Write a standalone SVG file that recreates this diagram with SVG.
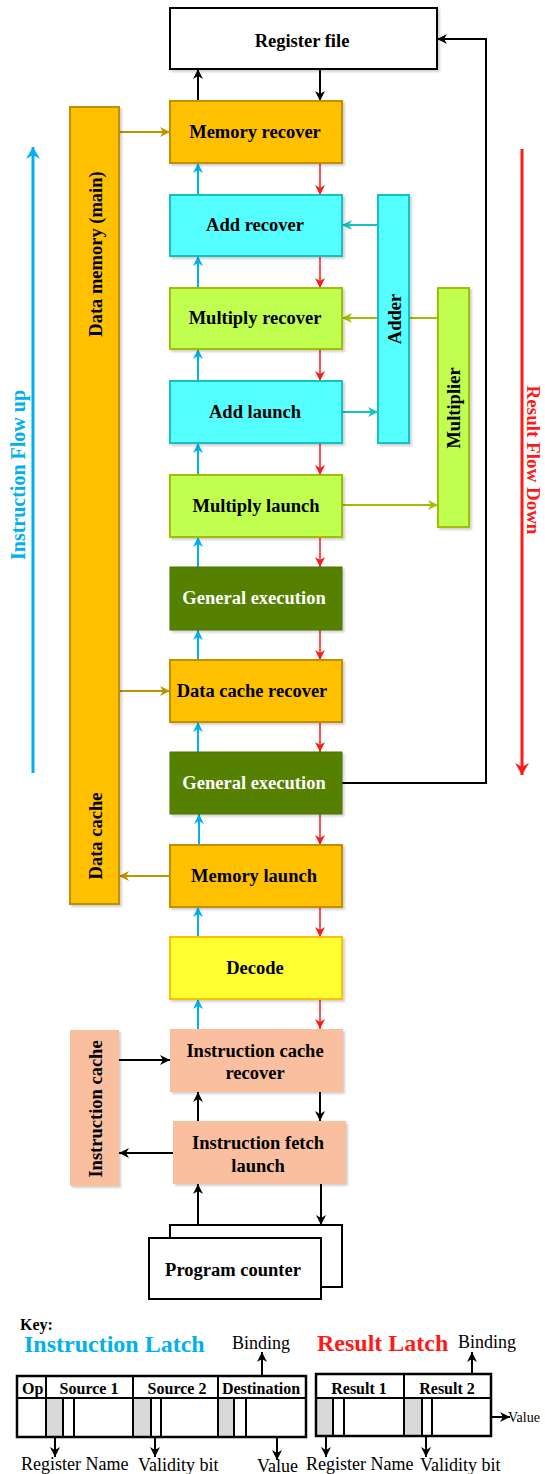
<svg xmlns="http://www.w3.org/2000/svg" width="545" height="1474" viewBox="0 0 545 1474">
<style>
.t{font-family:"Liberation Serif","Times New Roman",serif;font-weight:bold;font-size:18.5px;fill:#000;text-anchor:middle}
.w{fill:#fff}
.orange{fill:#FFC000;stroke:#BF9000;stroke-width:2}
.cyan{fill:#55FFFF;stroke:#17BFC0;stroke-width:2}
.lime{fill:#C0FF50;stroke:#9FBF00;stroke-width:2}
.dgreen{fill:#548000;stroke:#4A7200;stroke-width:1}
.yellow{fill:#FFFF33;stroke:#FFC000;stroke-width:2}
.peach{fill:#FABF9F}
.white{fill:#fff;stroke:#000;stroke-width:2}
.sh{filter:url(#shadow)}
.cb{stroke:#00B0F0;stroke-width:2;fill:none;marker-end:url(#mBlue)}
.cr{stroke:#FF1A1A;stroke-width:1.5;fill:none;marker-end:url(#mRed)}
.ck{stroke:#000;stroke-width:2;fill:none;marker-end:url(#mBlack)}
.cg{stroke:#BF9000;stroke-width:2;fill:none;marker-end:url(#mGold)}
.cc{stroke:#17BFC0;stroke-width:2;fill:none;marker-end:url(#mCyan)}
.cl{stroke:#9FBF00;stroke-width:2;fill:none;marker-end:url(#mLime)}
.kt{font-family:"Liberation Serif","Times New Roman",serif;font-size:18px;fill:#000}
.kb{font-family:"Liberation Serif","Times New Roman",serif;font-weight:bold;font-size:16px;fill:#000}
.ln{stroke:#000;stroke-width:2;fill:none}
.gr{fill:#D9D9D9}
</style>
<defs>
<filter id="shadow" x="-10%" y="-10%" width="130%" height="130%">
<feDropShadow dx="2" dy="2" stdDeviation="1" flood-color="#000" flood-opacity="0.18"/>
</filter>
<marker id="mBlue" markerUnits="userSpaceOnUse" markerWidth="10" markerHeight="10" refX="10" refY="5" orient="auto"><path d="M0,0 L10,5 L0,10 L3,5 z" fill="#00B0F0"/></marker>
<marker id="mRed" markerUnits="userSpaceOnUse" markerWidth="10" markerHeight="10" refX="10" refY="5" orient="auto"><path d="M0,0 L10,5 L0,10 L3,5 z" fill="#FF1A1A"/></marker>
<marker id="mBlack" markerUnits="userSpaceOnUse" markerWidth="10" markerHeight="10" refX="10" refY="5" orient="auto"><path d="M0,0 L10,5 L0,10 L3,5 z" fill="#000"/></marker>
<marker id="mGold" markerUnits="userSpaceOnUse" markerWidth="10" markerHeight="10" refX="10" refY="5" orient="auto"><path d="M0,0 L10,5 L0,10 L3,5 z" fill="#BF9000"/></marker>
<marker id="mCyan" markerUnits="userSpaceOnUse" markerWidth="10" markerHeight="10" refX="10" refY="5" orient="auto"><path d="M0,0 L10,5 L0,10 L3,5 z" fill="#17BFC0"/></marker>
<marker id="mLime" markerUnits="userSpaceOnUse" markerWidth="10" markerHeight="10" refX="10" refY="5" orient="auto"><path d="M0,0 L10,5 L0,10 L3,5 z" fill="#9FBF00"/></marker>
<marker id="mBlueBig" markerUnits="userSpaceOnUse" markerWidth="14" markerHeight="14" refX="12" refY="7" orient="auto"><path d="M0,0 L12,7 L0,14 L4,7 z" fill="#00B0F0"/></marker>
<marker id="mRedBig" markerUnits="userSpaceOnUse" markerWidth="14" markerHeight="14" refX="12" refY="7" orient="auto"><path d="M0,0 L12,7 L0,14 L4,7 z" fill="#FF1A1A"/></marker>
</defs>

<g id="connectors">
<path class="ck" d="M198,101 V69"/>
<path class="ck" d="M320,69 V101"/>
<path class="cb" d="M198,195 V163"/>
<path class="cb" d="M198,288 V256"/>
<path class="cb" d="M198,381 V349"/>
<path class="cb" d="M198,475 V443"/>
<path class="cb" d="M198,567 V537"/>
<path class="cb" d="M198,660 V630"/>
<path class="cb" d="M198,752 V722"/>
<path class="cb" d="M199,845 V814"/>
<path class="cb" d="M198,937 V907"/>
<path class="cb" d="M198,1029 V999"/>
<path class="cr" d="M320,163 V195"/>
<path class="cr" d="M320,256 V288"/>
<path class="cr" d="M320,349 V381"/>
<path class="cr" d="M320,443 V475"/>
<path class="cr" d="M320,537 V567"/>
<path class="cr" d="M320,630 V660"/>
<path class="cr" d="M320,722 V752"/>
<path class="cr" d="M320,814 V845"/>
<path class="cr" d="M320,907 V937"/>
<path class="cr" d="M320,999 V1029"/>
<path class="ck" d="M198,1121 V1092"/>
<path class="ck" d="M320,1092 V1121"/>
<path class="ck" d="M198,1225 V1184"/>
<path class="ck" d="M321,1184 V1225"/>
<path class="ck" d="M119,1060 H170"/>
<path class="ck" d="M173,1153 H119"/>
<path class="cg" d="M119,132 H170"/>
<path class="cg" d="M119,691 H170"/>
<path class="cg" d="M170,876 H119"/>
<path class="cc" d="M378,225 H342"/>
<path class="cc" d="M342,412 H378"/>
<path class="cl" d="M438,318 H342"/>
<path class="cl" d="M342,505 H438"/>
<path class="ck" d="M342,783 H486 V39 H437"/>
<path d="M33,773 V147" stroke="#00B0F0" stroke-width="3" fill="none" marker-end="url(#mBlueBig)"/>
<path d="M522,149 V775" stroke="#FF1A1A" stroke-width="3" fill="none" marker-end="url(#mRedBig)"/>
</g>

<g id="register-file"><rect class="white sh" x="170" y="8" width="267" height="61"/><text class="t" x="302" y="47">Register file</text></g>
<g id="memory-recover"><rect class="orange sh" x="170" y="101" width="172" height="62"/><text class="t" x="255" y="138">Memory recover</text></g>
<g id="add-recover"><rect class="cyan sh" x="170" y="195" width="172" height="61"/><text class="t" x="255" y="231">Add recover</text></g>
<g id="multiply-recover"><rect class="lime sh" x="170" y="288" width="172" height="61"/><text class="t" x="255" y="324">Multiply recover</text></g>
<g id="add-launch"><rect class="cyan sh" x="170" y="381" width="172" height="62"/><text class="t" x="255" y="418">Add launch</text></g>
<g id="multiply-launch"><rect class="lime sh" x="170" y="475" width="172" height="62"/><text class="t" x="256" y="512">Multiply launch</text></g>
<g id="general-execution-1"><rect class="dgreen sh" x="170" y="567" width="172" height="63"/><text class="t w" x="254" y="604">General execution</text></g>
<g id="data-cache-recover"><rect class="orange sh" x="170" y="660" width="172" height="62"/><text class="t" x="252" y="697">Data cache recover</text></g>
<g id="general-execution-2"><rect class="dgreen sh" x="170" y="752" width="172" height="62"/><text class="t w" x="254" y="789">General execution</text></g>
<g id="memory-launch"><rect class="orange sh" x="170" y="845" width="172" height="62"/><text class="t" x="254" y="882">Memory launch</text></g>
<g id="decode"><rect class="yellow sh" x="170" y="937" width="172" height="62"/><text class="t" x="255" y="974">Decode</text></g>
<g id="instruction-cache-recover"><rect class="peach sh" x="170" y="1029" width="173" height="63"/><text class="t" x="255" y="1057">Instruction cache</text><text class="t" x="255" y="1079">recover</text></g>
<g id="instruction-fetch-launch"><rect class="peach sh" x="173" y="1121" width="173" height="63"/><text class="t" x="258" y="1149">Instruction fetch</text><text class="t" x="258" y="1172">launch</text></g>
<g id="program-counter"><rect class="white" x="170" y="1225" width="172" height="62"/><rect class="white" x="149" y="1238" width="172" height="61"/><text class="t" x="233" y="1276">Program counter</text></g>

<g id="data-memory"><rect class="orange sh" x="70" y="107" width="49" height="797"/>
<text class="t" transform="translate(102,254) rotate(-90)">Data memory (main)</text>
<text class="t" transform="translate(102,836) rotate(-90)">Data cache</text></g>
<g id="instruction-cache"><rect class="peach sh" x="70" y="1030" width="49" height="156"/>
<text class="t" transform="translate(102,1109) rotate(-90)">Instruction cache</text></g>
<g id="adder"><rect class="cyan sh" x="378" y="195" width="31" height="248"/>
<text class="t" transform="translate(401,319) rotate(-90)">Adder</text></g>
<g id="multiplier"><rect class="lime sh" x="438" y="288" width="31" height="239"/>
<text class="t" transform="translate(460,408) rotate(-90)">Multiplier</text></g>

<g id="flow-labels">
<text class="t" style="fill:#00B0F0;font-size:20px" transform="translate(25,475) rotate(-90)">Instruction Flow up</text>
<text class="t" style="fill:#FF1A1A;font-size:19px" transform="translate(527,460) rotate(90)">Result Flow Down</text>
</g>

<g id="key">
<text class="kb" x="20" y="1330">Key:</text>
<text class="kb" x="24" y="1352" style="font-size:24px;fill:#00B0F0">Instruction Latch</text>
<text class="kb" x="317" y="1351" style="font-size:24px;fill:#FF1A1A">Result Latch</text>
</g>

<g id="instruction-latch">
<rect class="gr" x="46" y="1398" width="17" height="39"/>
<rect class="gr" x="133" y="1398" width="18" height="39"/>
<rect class="gr" x="218" y="1398" width="16" height="39"/>
<rect x="17" y="1376" width="289" height="61" fill="none" stroke="#000" stroke-width="2.5"/>
<path class="ln" d="M17,1398 H306 M46,1376 V1437 M133,1376 V1437 M218,1376 V1437 M63,1398 V1437 M74,1398 V1437 M151,1398 V1437 M161,1398 V1437 M234,1398 V1437 M246,1398 V1437"/>
<text class="kb" x="22" y="1394">Op</text>
<text class="kb" x="89" y="1394" text-anchor="middle">Source 1</text>
<text class="kb" x="177" y="1394" text-anchor="middle">Source 2</text>
<text class="kb" x="261" y="1394" text-anchor="middle">Destination</text>
<path class="ck" d="M262,1376 V1352"/>
<text class="kt" x="232" y="1349">Binding</text>
<path class="ck" d="M55,1437 V1457"/>
<path class="ck" d="M155,1437 V1457"/>
<path class="ck" d="M277,1437 V1460"/>
<text class="kt" x="21" y="1470">Register Name</text>
<text class="kt" x="138" y="1471">Validity bit</text>
<text class="kt" x="257" y="1472">Value</text>
</g>

<g id="result-latch">
<rect class="gr" x="316" y="1398" width="17" height="38"/>
<rect class="gr" x="404" y="1398" width="18" height="38"/>
<rect x="316" y="1374" width="175" height="62" fill="none" stroke="#000" stroke-width="2.5"/>
<path class="ln" d="M316,1398 H491 M404,1374 V1436 M333,1398 V1436 M344,1398 V1436 M422,1398 V1436 M432,1398 V1436"/>
<text class="kb" x="359" y="1394" text-anchor="middle">Result 1</text>
<text class="kb" x="447" y="1394" text-anchor="middle">Result 2</text>
<path class="ck" d="M472,1374 V1352"/>
<text class="kt" x="458" y="1348">Binding</text>
<path class="ck" d="M491,1417 H510"/>
<text class="kt" x="508" y="1422" style="font-size:14px">Value</text>
<path class="ck" d="M326,1436 V1457"/>
<path class="ck" d="M426,1436 V1457"/>
<text class="kt" x="306" y="1470">Register Name</text>
<text class="kt" x="420" y="1471">Validity bit</text>
</g>
</svg>
